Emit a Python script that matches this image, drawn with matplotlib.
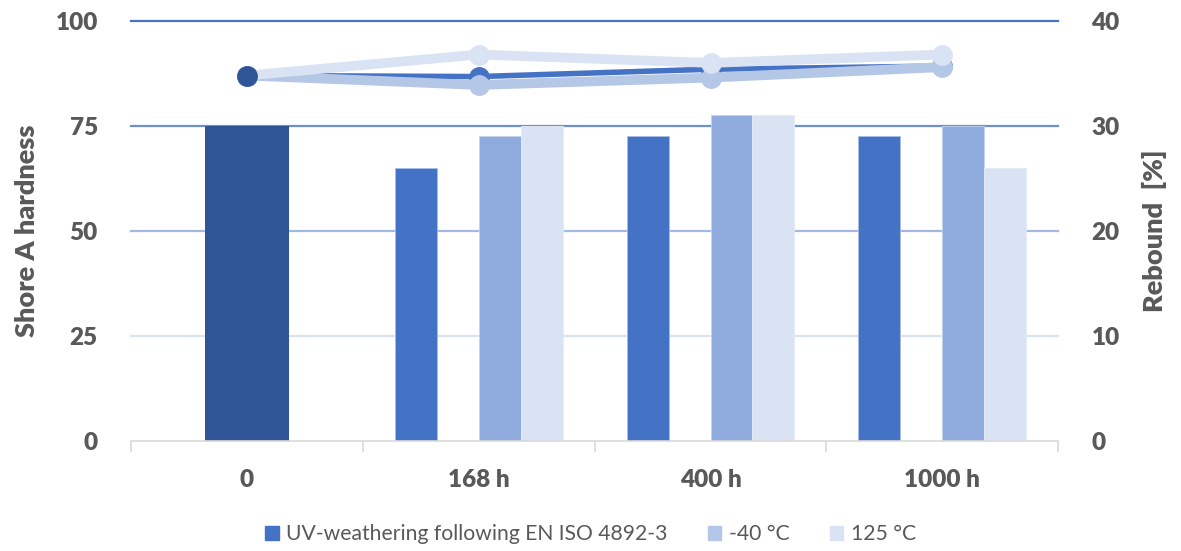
import matplotlib.pyplot as plt
from matplotlib.patches import Patch

# Data
categories = ['0', '168 h', '400 h', '1000 h']
initial_hardness = 75
uv_hardness = [65, 72.5, 72.5]
cold_hardness = [72.5, 77.5, 75]
hot_hardness = [75, 77.5, 65]

uv_rebound = [34.8, 34.7, 35.4, 35.7]
cold_rebound = [34.8, 33.9, 34.6, 35.6]
hot_rebound = [34.8, 36.8, 36.0, 36.8]

left_ticks = [0, 25, 50, 75, 100]
right_ticks = [0, 10, 20, 30, 40]
legend_labels = ['UV-weathering following EN ISO 4892-3', '-40 °C', '125 °C']

c_dark = '#2F5597'
c_uv = '#4472C4'
c_cold = '#8FAADC'
c_cold_line = '#B4C7E7'
c_hot = '#DAE3F3'
grey = '#595959'

plt.rcParams['font.family'] = ['Lato', 'DejaVu Sans']
plt.rcParams['font.weight'] = 'heavy'
plt.rcParams['axes.labelweight'] = 'heavy'


def render():
    fig = plt.figure(figsize=(11.81, 5.51), dpi=100)
    ax = fig.add_axes([0.111, 0.2, 0.785, 0.762])
    ax2 = ax.twinx()

    w = 0.181
    x = list(range(len(categories)))
    xs = x[1:]

    # gridlines, fading from strong blue at the top to pale at the bottom
    grid_colors = {25: '#DAE3F3', 50: '#A3B8E2', 75: '#6D8FD0', 100: '#4472C4'}
    for t, c in grid_colors.items():
        ax.axhline(t, color=c, lw=1.6, zorder=0, clip_on=False)

    ax.bar(0, initial_hardness, width=2 * w, color=c_dark, zorder=2)
    ax.bar([i - 1.5 * w for i in xs], uv_hardness, width=w, color=c_uv,
           edgecolor='#A9BDE5', lw=0.6, zorder=2)
    ax.bar([i + 0.5 * w for i in xs], cold_hardness, width=w, color=c_cold,
           edgecolor='#C5D3EE', lw=0.6, zorder=2)
    ax.bar([i + 1.5 * w for i in xs], hot_hardness, width=w, color=c_hot,
           edgecolor='#E6ECF7', lw=0.6, zorder=2)

    ax2.plot(x, uv_rebound, color=c_uv, lw=4, marker='o', ms=14, zorder=3)
    ax2.plot(x, cold_rebound, color=c_cold_line, lw=7, marker='o', ms=14, zorder=4)
    ax2.plot(x, hot_rebound, color=c_hot, lw=7, marker='o', ms=14, zorder=5)
    ax2.plot([0], [uv_rebound[0]], color=c_dark, marker='o', ms=14, zorder=6)

    for a in (ax, ax2):
        for s in a.spines.values():
            s.set_visible(False)
        a.tick_params(axis='y', length=0, pad=24, labelsize=17.5, labelcolor=grey)
    ax.tick_params(axis='x', which='major', length=0, pad=20, labelsize=17.5, labelcolor=grey)
    ax.tick_params(axis='x', which='minor', length=8, color='#D9D9D9', width=1.2)

    ax.set_xlim(-0.5, len(categories) - 0.5)
    ax.set_ylim(0, 100)
    ax2.set_ylim(0, 40)
    ax.set_yticks(left_ticks)
    ax2.set_yticks(right_ticks)
    ax.set_xticks(x, labels=categories)
    ax.set_xticks([i - 0.5 for i in range(len(categories) + 1)], minor=True)

    ax.spines['bottom'].set_visible(True)
    ax.spines['bottom'].set_color('#D9D9D9')
    ax.spines['bottom'].set_linewidth(1.2)

    ax.set_ylabel('Shore A hardness', fontsize=19.5, color=grey, labelpad=12)
    ax2.set_ylabel('Rebound  [%]', fontsize=19.5, color=grey, labelpad=16)

    handles = [Patch(color=c_uv), Patch(color=c_cold_line), Patch(color=c_hot)]
    fig.legend(handles, legend_labels, loc='center', bbox_to_anchor=(0.5, 0.03), ncol=3,
               frameon=False, prop={'size': 15.2, 'weight': 'normal'}, labelcolor=grey,
               handlelength=0.65, handleheight=0.65, handletextpad=0.35, columnspacing=1.9)

    fig.savefig('out.png', dpi=100)


if __name__ == '__main__':
    render()
